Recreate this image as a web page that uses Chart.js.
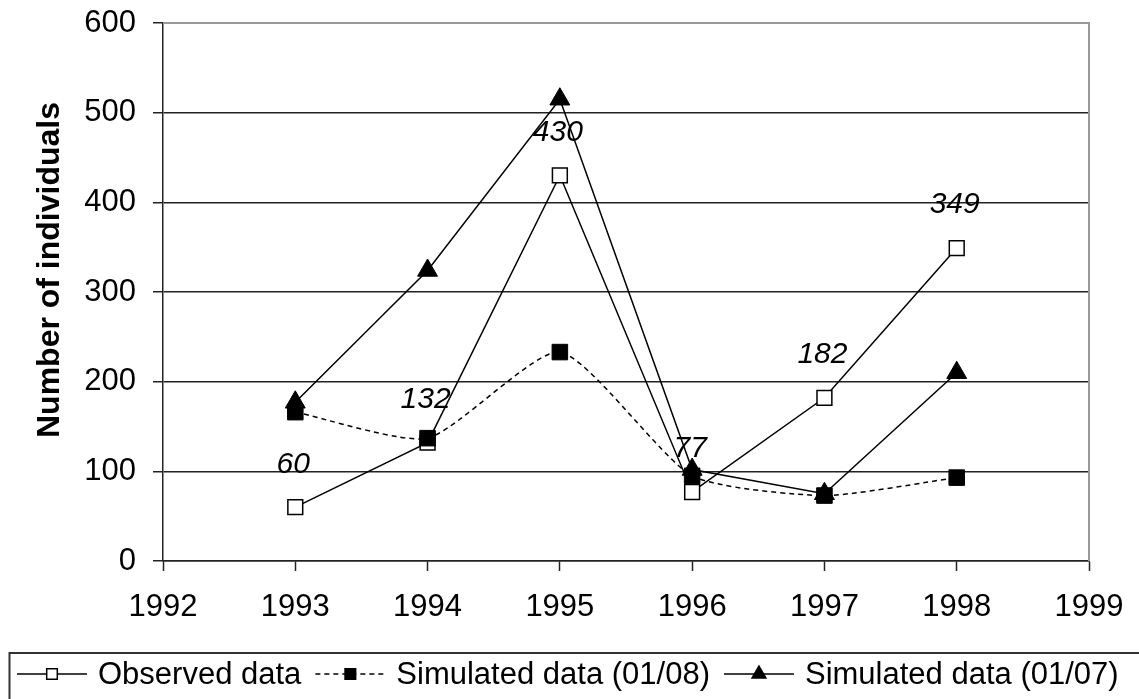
<!DOCTYPE html>
<html>
<head>
<meta charset="utf-8">
<script src="https://cdn.jsdelivr.net/npm/chart.js@4.4.0/dist/chart.umd.min.js"></script>
<style>
  html, body { margin: 0; padding: 0; background: #fff; }
  #wrap { width: 1139px; height: 699px; position: relative; }
</style>
</head>
<body>
<div id="wrap"><canvas id="population-chart"></canvas></div>
<script>
// Population counts per year: observed field data against two simulation runs.

const years = [1993, 1994, 1995, 1996, 1997, 1998];
const observed = [60, 132, 430, 77, 182, 349];
const simulated0108 = [166, 137, 233, 95, 73, 93];
const simulated0107 = [177, 324, 515, 102, 75, 210];

const xRange = [1992, 1999];
const yRange = [0, 600];
const yStep = 100;
const yTitle = 'Number of individuals';

const FONT = '"Liberation Sans", Arial, sans-serif';
Chart.defaults.font.family = FONT;
Chart.defaults.color = '#000';

function toPoints(values) {
  return years.map((year, i) => ({ x: year, y: values[i] }));
}

// Italic value labels above the observed points
const valueLabels = {
  id: 'valueLabels',
  afterDatasetsDraw(chart) {
    const ctx = chart.ctx;
    const meta = chart.getDatasetMeta(0);
    ctx.save();
    ctx.font = 'italic 30px ' + FONT;
    ctx.fillStyle = '#000';
    ctx.textAlign = 'center';
    ctx.textBaseline = 'middle';
    meta.data.forEach((pt, i) => {
      ctx.fillText(String(observed[i]), pt.x - 2, pt.y - 43);
    });
    ctx.restore();
  }
};

// Grey frame on the top and right edges of the plot area
const plotFrame = {
  id: 'plotFrame',
  beforeDatasetsDraw(chart) {
    const { ctx, chartArea } = chart;
    ctx.save();
    ctx.strokeStyle = '#999';
    ctx.lineWidth = 2;
    ctx.beginPath();
    ctx.moveTo(chartArea.left, chartArea.top);
    ctx.lineTo(chartArea.right, chartArea.top);
    ctx.lineTo(chartArea.right, chartArea.bottom);
    ctx.stroke();
    ctx.restore();
  }
};

// Rotated y-axis caption, sitting a little above the plot's mid-height
const axisCaption = {
  id: 'axisCaption',
  afterDraw(chart) {
    const ctx = chart.ctx;
    const area = chart.chartArea;
    ctx.save();
    ctx.translate(50, (area.top + area.bottom) / 2 - 22);
    ctx.rotate(-Math.PI / 2);
    ctx.font = 'bold 32px ' + FONT;
    ctx.fillStyle = '#000';
    ctx.textAlign = 'center';
    ctx.textBaseline = 'middle';
    ctx.fillText(yTitle, 0, 0);
    ctx.restore();
  }
};

// Boxed legend along the bottom, line sample + marker + label
const boxLegend = {
  id: 'boxLegend',
  afterDraw(chart) {
    const ctx = chart.ctx;
    const top = 653;
    const cy = 674;
    ctx.save();
    ctx.strokeStyle = '#333';
    ctx.lineWidth = 2;
    ctx.strokeRect(9.5, top, 1140, 60);

    ctx.font = '31px ' + FONT;
    ctx.textBaseline = 'middle';
    ctx.textAlign = 'left';
    let x = 17;
    chart.data.datasets.forEach(ds => {
      const sample = 70;
      ctx.strokeStyle = '#000';
      ctx.lineWidth = 1.5;
      ctx.setLineDash(ds.borderDash || []);
      ctx.beginPath();
      ctx.moveTo(x, cy);
      ctx.lineTo(x + sample, cy);
      ctx.stroke();
      ctx.setLineDash([]);
      ctx.fillStyle = ds.pointBackgroundColor;
      Chart.helpers.drawPoint(ctx, {
        pointStyle: ds.pointStyle,
        radius: ds.pointStyle === 'triangle' ? 8 : 7.5,
        borderWidth: 1.5
      }, x + sample / 2, cy);
      ctx.fillStyle = '#000';
      ctx.fillText(ds.label, x + sample + 11, cy + 1);
      x += sample + 11 + ctx.measureText(ds.label).width + 14;
    });
    ctx.restore();
  }
};

const ctx = document.getElementById('population-chart').getContext('2d');

const chart = new Chart(ctx, {
  type: 'line',
  data: {
    datasets: [
      {
        label: 'Observed data',
        data: toPoints(observed),
        borderColor: '#000',
        borderWidth: 1.5,
        pointStyle: 'rect',
        pointRadius: 10.5,
        pointBackgroundColor: '#fff',
        pointBorderColor: '#000',
        pointBorderWidth: 1.5,
        tension: 0,
        order: 1
      },
      {
        label: 'Simulated data (01/08)',
        data: toPoints(simulated0108),
        borderColor: '#000',
        borderWidth: 1.5,
        borderDash: [5, 4],
        pointStyle: 'rect',
        pointRadius: 11,
        pointBackgroundColor: '#000',
        pointBorderColor: '#000',
        pointBorderWidth: 1,
        tension: 0.2,
        order: 0
      },
      {
        label: 'Simulated data (01/07)',
        data: toPoints(simulated0107),
        borderColor: '#000',
        borderWidth: 1.5,
        pointStyle: 'triangle',
        pointRadius: 11.5,
        pointBackgroundColor: '#000',
        pointBorderColor: '#000',
        pointBorderWidth: 1,
        tension: 0,
        order: 2
      }
    ]
  },
  options: {
    responsive: true,
    maintainAspectRatio: false,
    animation: false,
    layout: { padding: { top: 23, right: 50, left: 0, bottom: 0 } },
    plugins: {
      legend: { display: false },
      tooltip: { enabled: false }
    },
    scales: {
      x: {
        type: 'linear',
        min: xRange[0],
        max: xRange[1],
        afterFit(scale) {
          scale.height = 138;
          scale.paddingLeft = 0;
          scale.paddingRight = 0;
        },
        ticks: {
          stepSize: 1,
          padding: 18,
          font: { size: 31 },
          color: '#000',
          callback: v => String(v)
        },
        grid: {
          drawOnChartArea: false,
          drawTicks: true,
          tickLength: 10,
          tickColor: '#222',
          tickWidth: 1.5
        },
        border: { color: '#222', width: 1.5 }
      },
      y: {
        min: yRange[0],
        max: yRange[1],
        afterFit(scale) {
          scale.width = 163;
          scale.paddingTop = 0;
          scale.paddingBottom = 0;
        },
        ticks: {
          stepSize: yStep,
          padding: 17,
          font: { size: 31 },
          color: '#000'
        },
        grid: {
          color: c => (c.tick && c.tick.value === yRange[1]) ? '#999' : '#222',
          lineWidth: 1.5,
          tickLength: 10,
          tickColor: '#222',
          tickWidth: 1.5
        },
        border: { color: '#222', width: 1.5 }
      }
    }
  },
  plugins: [plotFrame, valueLabels, axisCaption, boxLegend]
});
</script>
</body>
</html>
